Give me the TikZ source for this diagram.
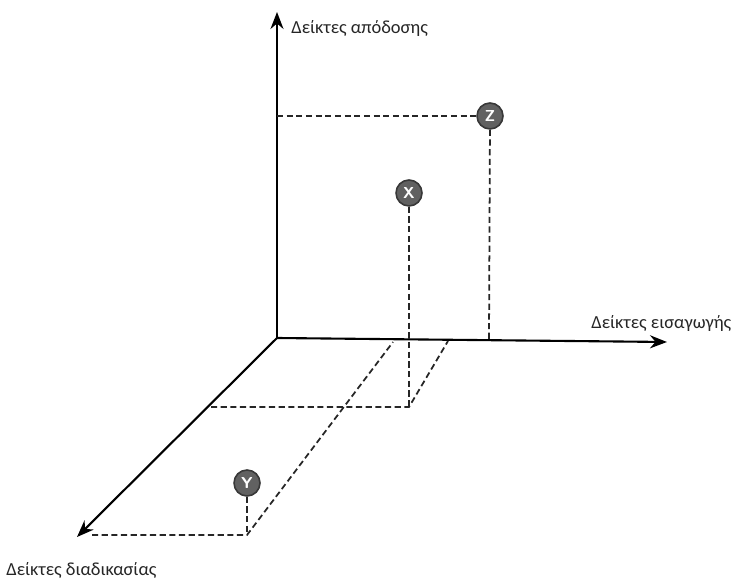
\documentclass[tikz,border=0pt]{standalone}
\usepackage{fontspec}
\setmainfont{Carlito}
\usetikzlibrary{arrows.meta}
\tikzstyle{axis} = [line width=1.2pt, -{Stealth[length=3.4mm,width=2.6mm]}]
\tikzstyle{guide} = [line width=1pt, dash pattern=on 3.5pt off 2pt, black!85]
\tikzstyle{point} = [circle, minimum size=0.52cm, inner sep=0pt, fill=black!62, draw=black!78, line width=0.9pt, text=white, font=\sffamily\bfseries\small]
\tikzstyle{label} = [anchor=west, inner sep=0pt, font=\fontsize{10.5}{12}\selectfont, text=black!85]

\begin{document}
\begin{tikzpicture}[x=0.02cm, y=-0.02cm]
        \useasboundingbox (0,0) rectangle (736,580);
        % axes
        \coordinate (origin) at (277,338);
        \coordinate (outtip) at (277,12);
        \coordinate (intip) at (667,342);
        \coordinate (proctip) at (77,537);
        \draw [axis] (origin) -- (outtip);
        \draw [axis] (origin) -- (intip);
        \draw [axis] (origin) -- (proctip);
        \node (outlabel) [label] at (291,28) {Δείκτες απόδοσης};
        \node (inlabel) [label] at (591,323) {Δείκτες εισαγωγής};
        \node (proclabel) [label] at (6,570) {Δείκτες διαδικασίας};
        % points
        \node (z) [point] at (490,116) {Z};
        \node (x) [point] at (409,193) {X};
        \node (y) [point] at (247,483) {Y};
        % projections of Z
        \coordinate (zout) at (277,116);
        \coordinate (zin) at (489,340);
        \draw [guide] (zout) -- (z);
        \draw [guide] (z) -- (zin);
        % projections of X
        \coordinate (xfoot) at (409,407);
        \coordinate (xproc) at (211,407);
        \coordinate (xin) at (448,341);
        \draw [guide] (x) -- (xfoot);
        \draw [guide] (xproc) -- (xfoot) -- (xin);
        % projections of Y
        \coordinate (yfoot) at (247,535);
        \coordinate (yproc) at (92,535);
        \coordinate (yin) at (393,342);
        \draw [guide] (y) -- (yfoot);
        \draw [guide] (yproc) -- (yfoot) -- (yin);
    \end{tikzpicture}
\end{document}
